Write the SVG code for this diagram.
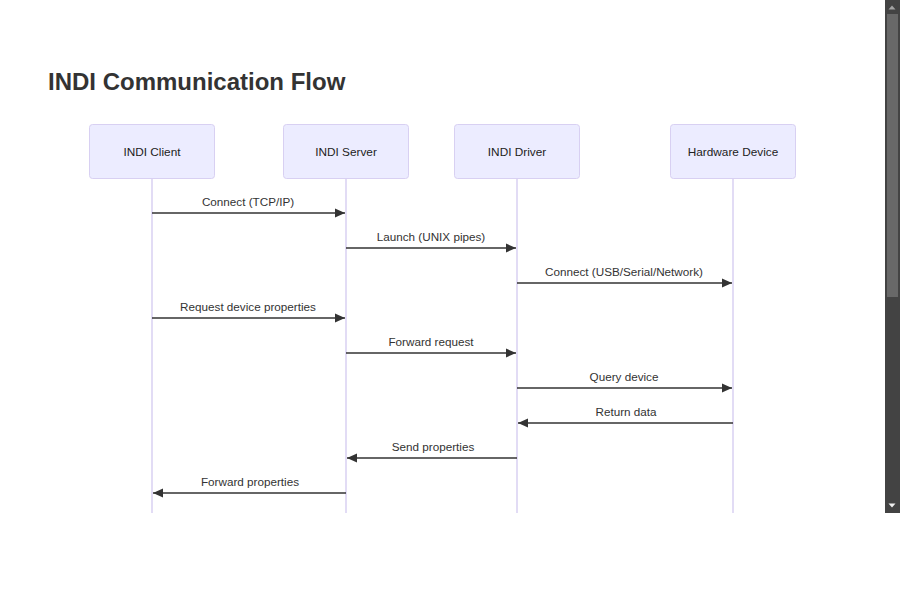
<svg xmlns="http://www.w3.org/2000/svg" width="900" height="600" viewBox="0 0 900 600">
<defs>
<style>
.actor rect{fill:#ECECFF;stroke:#D8D0F2;stroke-width:1}
.actor text{font-family:"Liberation Sans",Arial,sans-serif;font-size:11.8px;fill:#222;text-anchor:middle;dominant-baseline:central}
.life{stroke:#D8D0F2;stroke-width:1.5;fill:none}
.msg line{stroke:#333;stroke-width:1.5}
.msg text{font-family:"Liberation Sans",Arial,sans-serif;font-size:11.7px;fill:#333;text-anchor:middle}
.title{font-family:"Liberation Sans",Arial,sans-serif;font-size:24px;font-weight:bold;fill:#333}
</style>
<marker id="arr" viewBox="0 0 10 10" refX="10" refY="5" markerWidth="10" markerHeight="10" markerUnits="userSpaceOnUse" orient="auto">
<path d="M0,0.5 L10,5 L0,9.5 z" fill="#333"/>
</marker>
</defs>
<rect width="900" height="600" fill="#fff"/>
<text class="title" x="48" y="90">INDI Communication Flow</text>
<g id="lifelines">
<line class="life" x1="152" y1="178" x2="152" y2="513"/>
<line class="life" x1="346" y1="178" x2="346" y2="513"/>
<line class="life" x1="517" y1="178" x2="517" y2="513"/>
<line class="life" x1="733" y1="178" x2="733" y2="513"/>
</g>
<g id="client" class="actor"><rect x="89.5" y="124.5" width="125" height="54" rx="3"/><text x="152" y="152">INDI Client</text></g>
<g id="server" class="actor"><rect x="283.5" y="124.5" width="125" height="54" rx="3"/><text x="346" y="152">INDI Server</text></g>
<g id="driver" class="actor"><rect x="454.5" y="124.5" width="125" height="54" rx="3"/><text x="517" y="152">INDI Driver</text></g>
<g id="hardware" class="actor"><rect x="670.5" y="124.5" width="125" height="54" rx="3"/><text x="733" y="152">Hardware Device</text></g>
<g id="connectors" class="msg">
<line x1="152" y1="213" x2="345" y2="213" marker-end="url(#arr)"/><text x="248" y="206">Connect (TCP/IP)</text>
<line x1="346" y1="248" x2="516" y2="248" marker-end="url(#arr)"/><text x="431" y="241">Launch (UNIX pipes)</text>
<line x1="517" y1="283" x2="732" y2="283" marker-end="url(#arr)"/><text x="624" y="276">Connect (USB/Serial/Network)</text>
<line x1="152" y1="318" x2="345" y2="318" marker-end="url(#arr)"/><text x="248" y="311">Request device properties</text>
<line x1="346" y1="353" x2="516" y2="353" marker-end="url(#arr)"/><text x="431" y="346">Forward request</text>
<line x1="517" y1="388" x2="732" y2="388" marker-end="url(#arr)"/><text x="624" y="381">Query device</text>
<line x1="733" y1="423" x2="518" y2="423" marker-end="url(#arr)"/><text x="626" y="416">Return data</text>
<line x1="517" y1="458" x2="347" y2="458" marker-end="url(#arr)"/><text x="433" y="451">Send properties</text>
<line x1="346" y1="493" x2="153" y2="493" marker-end="url(#arr)"/><text x="250" y="486">Forward properties</text>
</g>
<g id="scrollbar">
<rect x="885" y="0" width="15" height="513" fill="#434343"/>
<rect x="887" y="14" width="11" height="283" fill="#686868"/>
<path d="M888.5,9.5 L895.5,9.5 L892,5.5 z" fill="#a3a3a3"/>
<path d="M888.5,503.5 L895.5,503.5 L892,507.5 z" fill="#f0f0f0"/>
</g>
</svg>
